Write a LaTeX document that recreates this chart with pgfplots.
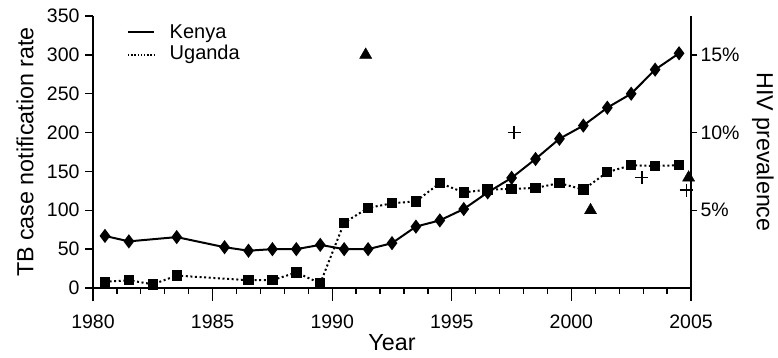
\documentclass[border=0pt]{standalone}
\usepackage{fontspec}
\setmainfont{Liberation Sans}
\usepackage{pgfplots}
\pgfplotsset{compat=1.18}
\pgfplotstableread{
x y
1980.5 67
1981.5 60
1983.5 65.5
1985.5 52.5
1986.5 48
1987.5 50
1988.5 50
1989.5 55.5
1990.5 50
1991.5 50
1992.5 57.7
1993.5 79
1994.5 87
1995.5 101.6
1996.5 123
1997.5 141.7
1998.5 166
1999.5 192
2000.5 209
2001.5 232
2002.5 250
2003.5 281
2004.5 302
}\kenya
\pgfplotstableread{
x y
1980.5 8
1981.5 10
1982.5 4.7
1983.5 16
1986.5 10
1987.5 10
1988.5 20
1989.5 6
1990.5 84
1991.5 103
1992.5 109
1993.5 111.5
1994.5 135
1995.5 123
1996.5 126.6
1997.5 127.5
1998.5 128.7
1999.5 135
2000.5 126.6
2001.5 149
2002.5 158
2003.5 157
2004.5 158
}\uganda
\pgfplotstableread{
x y
1991.4 15.0
2000.8 5.0
2004.9 7.1
}\tri
\pgfplotstableread{
x y
1997.6 10.0
2002.95 7.1
2004.8 6.3
}\plusd
\pgfplotsset{
  base/.style={
    at={(0pt,0pt)}, anchor=south west,
    scale only axis, width=598pt, height=272pt,
    xmin=1980, xmax=2005, clip=false,
    axis line style={-, line width=1.3pt},
    tick style={line width=1.3pt, black},
    tick align=outside,
    /pgf/number format/assume math mode=true,
    tick label style={font=\fontsize{19.5}{22}\selectfont},
    label style={font=\fontsize{23.3}{26}\selectfont},
  }
}
\begin{document}
\begin{tikzpicture}
\useasboundingbox (-93pt,-70pt) rectangle (685pt,288pt);
% x axis
\begin{axis}[base,
  ymin=0, ymax=350,
  axis x line*=bottom, axis y line=none,
  xtick={1980,1985,...,2005}, minor x tick num=4,
  major tick length=13pt, minor tick length=6pt,
  xticklabel style={/pgf/number format/1000 sep={}, yshift=-10pt},
  xlabel={Year},
  x label style={at={(axis description cs:0.5,-0.228)}, anchor=base},
]
\end{axis}
% left axis with TB data
\begin{axis}[base,
  ymin=0, ymax=350,
  axis x line=none, axis y line*=left,
  ytick={0,50,...,350},
  major tick length=8pt,
  yticklabel style={xshift=-2pt},
  ylabel={TB case notification rate},
  y label style={at={(axis description cs:-0.1137,0.5)}, anchor=center, rotate=0},
  legend style={at={(axis description cs:0.052,0.985)}, anchor=north west,
    draw=none, fill=none, font=\fontsize{20}{24}\selectfont,
    row sep=1.5pt,
    /tikz/every odd column/.append style={column sep=13pt}},
  legend cell align=left,
  legend entries={Kenya,Uganda},
]
\addplot[black, line width=2pt, mark=diamond*, mark size=5.5pt,
  legend image code/.code={\draw[black, line width=1.4pt] (0pt,0pt) -- (26pt,0pt);}] table[x=x,y=y] {\kenya};
\addplot[black, line width=2pt, dash pattern=on 2pt off 2.6pt, mark=square*, mark size=4.2pt, mark options={solid},
  legend image code/.code={\draw[black, line width=1.4pt, dash pattern=on 1.4pt off 1.8pt] (0pt,-2pt) -- (26pt,-2pt);}] table[x=x,y=y] {\uganda};
\end{axis}
% right axis HIV prevalence
\begin{axis}[base,
  ymin=0, ymax=17.5,
  axis x line=none, axis y line*=right,
  ytick={5,10,15}, yticklabels={5\%,10\%,15\%},
  major tick length=6pt,
  ylabel={HIV prevalence},
  y label style={at={(axis description cs:1.1204,0.5)}, anchor=center, rotate=180},
]
\addplot[only marks, black, mark=triangle*, mark size=7pt] table[x=x,y=y] {\tri};
\addplot[only marks, black, mark=+, mark size=6.5pt, line width=1.3pt] table[x=x,y=y] {\plusd};
\end{axis}
\end{tikzpicture}
\end{document}
